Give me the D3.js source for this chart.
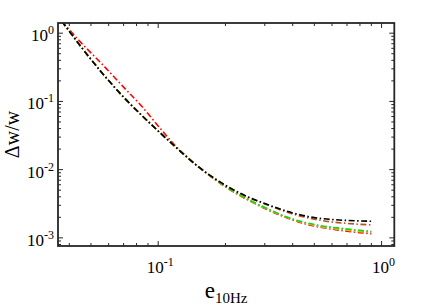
<!DOCTYPE html>
<html>
<head>
<meta charset="utf-8">
<script src="https://cdn.jsdelivr.net/npm/d3@7"></script>
<style>
  body { margin: 0; background: #fff; }
  svg { display: block; }
  text { font-family: "Liberation Serif", "Times New Roman", serif; fill: #000; }
</style>
</head>
<body>
<svg width="436" height="308"></svg>
<script>
// e_10Hz sample points
const xVals = [0.037, 0.045, 0.055, 0.07, 0.085, 0.1, 0.12, 0.15, 0.2, 0.25, 0.3, 0.4, 0.5, 0.6, 0.7, 0.8, 0.9];

// delta w / w for each run
const blueVals   = [1.5, 0.641, 0.282, 0.1156, 0.0610, 0.0368, 0.0213, 0.01127, 0.00565, 0.0037, 0.00276, 0.00187, 0.00154, 0.0014, 0.00132, 0.00126, 0.00122];
const redVals    = [1.5, 0.734, 0.376, 0.162, 0.0826, 0.0437, 0.0220, 0.01127, 0.00559, 0.00366, 0.0027, 0.00183, 0.00149, 0.00134, 0.00125, 0.00119, 0.00115];
const orangeVals = [1.5, 0.641, 0.282, 0.1156, 0.0610, 0.0368, 0.0213, 0.01127, 0.00565, 0.00368, 0.00274, 0.00185, 0.00152, 0.00137, 0.00129, 0.00123, 0.00119];
const greenVals  = [1.5, 0.641, 0.282, 0.1156, 0.0610, 0.0368, 0.0213, 0.01127, 0.00568, 0.00372, 0.00279, 0.00189, 0.00157, 0.00143, 0.00135, 0.00129, 0.00125];
const brownVals  = [1.5, 0.641, 0.282, 0.1156, 0.0610, 0.0368, 0.0213, 0.01127, 0.00588, 0.00398, 0.00314, 0.00224, 0.00188, 0.00171, 0.00163, 0.00158, 0.00155];
const blackVals  = [1.5, 0.641, 0.282, 0.1156, 0.0610, 0.0368, 0.0213, 0.01127, 0.0059, 0.00404, 0.00319, 0.00232, 0.00198, 0.00186, 0.0018, 0.00177, 0.00175];

const xTickVals = [0.1, 1];
const yTickVals = [1, 0.1, 0.01, 0.001];

const seriesList = [
  { color: "#6f7fff", vals: blueVals },
  { color: "#ff0000", vals: redVals },
  { color: "#f5a623", vals: orangeVals },
  { color: "#00e600", vals: greenVals },
  { color: "#b4541e", vals: brownVals },
  { color: "#000000", vals: blackVals }
];

const pLeft = 58, pRight = 394.3, pTop = 23, pBottom = 246;

const svg = d3.select("svg");

const x = d3.scaleLog().domain([0.0356, 1.14]).range([pLeft, pRight]);
const y = d3.scaleLog().domain([7.6e-4, 1.41]).range([pBottom, pTop]);

svg.append("clipPath").attr("id", "clip")
  .append("rect")
  .attr("x", pLeft).attr("y", pTop)
  .attr("width", pRight - pLeft).attr("height", pBottom - pTop);

const line = d3.line()
  .x((d) => x(d[0]))
  .y((d) => y(d[1]))
  .curve(d3.curveMonotoneX);

const lines = svg.append("g").attr("clip-path", "url(#clip)");

seriesList.forEach((s) => {
  lines.append("path")
    .datum(xVals.map((v, i) => [v, s.vals[i]]))
    .attr("fill", "none")
    .attr("stroke", s.color)
    .attr("stroke-width", 1.6)
    .attr("stroke-dasharray", "6,2.5,1.5,2.5")
    .attr("d", line);
});

// ticks, drawn inward on all four sides
const frameColor = "#262626";
const xMinor = x.ticks().filter((t) => xTickVals.indexOf(t) < 0);
const yMinor = y.ticks().filter((t) => yTickVals.indexOf(t) < 0);

const ticks = svg.append("g").attr("stroke", frameColor).attr("stroke-width", 1);

function xTick(t, len) {
  ticks.append("line").attr("x1", x(t)).attr("x2", x(t)).attr("y1", pBottom).attr("y2", pBottom - len);
  ticks.append("line").attr("x1", x(t)).attr("x2", x(t)).attr("y1", pTop).attr("y2", pTop + len);
}
function yTick(t, len) {
  ticks.append("line").attr("y1", y(t)).attr("y2", y(t)).attr("x1", pLeft).attr("x2", pLeft + len);
  ticks.append("line").attr("y1", y(t)).attr("y2", y(t)).attr("x1", pRight).attr("x2", pRight - len);
}
xMinor.forEach((t) => xTick(t, 3));
xTickVals.forEach((t) => xTick(t, 5));
yMinor.forEach((t) => yTick(t, 3));
yTickVals.forEach((t) => yTick(t, 5));

svg.append("rect")
  .attr("x", pLeft).attr("y", pTop)
  .attr("width", pRight - pLeft).attr("height", pBottom - pTop)
  .attr("fill", "none")
  .attr("stroke", frameColor)
  .attr("stroke-width", 1.8);

// tick labels 10^n
function powLabel(g, t) {
  const e = Math.round(Math.log10(t));
  g.append("tspan").attr("font-size", 17).text("10");
  g.append("tspan").attr("font-size", 12).attr("dy", -7).text(e);
}

xTickVals.forEach((t) => {
  const g = svg.append("text")
    .attr("x", x(t) + 2)
    .attr("y", 273)
    .attr("text-anchor", "middle");
  powLabel(g, t);
});

yTickVals.forEach((t) => {
  const g = svg.append("text")
    .attr("x", 54)
    .attr("y", y(t) + 8)
    .attr("text-anchor", "end");
  powLabel(g, t);
});

// axis labels
const xl = svg.append("text")
  .attr("x", (pLeft + pRight) / 2)
  .attr("y", 298)
  .attr("text-anchor", "middle");
xl.append("tspan").attr("font-size", 23).text("e");
xl.append("tspan").attr("font-size", 15).attr("dy", 5).text("10Hz");

svg.append("text")
  .attr("transform", `translate(19, ${(pTop + pBottom) / 2}) rotate(-90)`)
  .attr("text-anchor", "middle")
  .attr("font-size", 20)
  .text("\u0394w/w");
</script>
</body>
</html>
